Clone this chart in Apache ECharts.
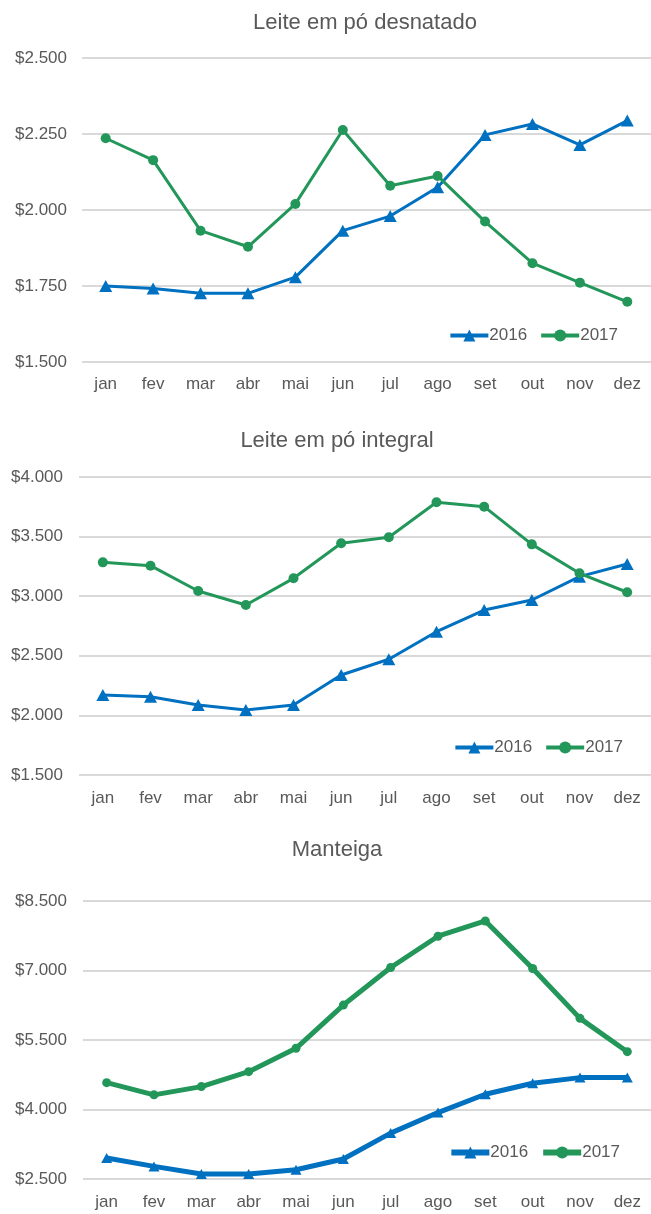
<!DOCTYPE html>
<html>
<head>
<meta charset="utf-8">
<script src="https://cdn.jsdelivr.net/npm/echarts@6/dist/echarts.min.js"></script>
<style>
  html, body { margin: 0; padding: 0; background: #fff; }
  .box { width: 651px; }
</style>
</head>
<body>
<div id="c1" class="box" style="height:410px"></div>
<div id="c2" class="box" style="height:410px"></div>
<div id="c3" class="box" style="height:394px"></div>
<script>
var months = ['jan','fev','mar','abr','mai','jun','jul','ago','set','out','nov','dez'];
var seriesNames = ['2016','2017'];

// Leite em pó desnatado
var desnatado2016 = [1750,1742,1726,1726,1779,1932,1980,2075,2247,2283,2214,2294];
var desnatado2017 = [2236,2164,1932,1879,2020,2263,2080,2112,1962,1825,1761,1698];

// Leite em pó integral
var integral2016 = [2171,2157,2087,2045,2087,2339,2471,2702,2884,2968,3164,3270];
var integral2017 = [3284,3256,3044,2926,3150,3444,3494,3788,3751,3435,3192,3033];

// Manteiga
var manteiga2016 = [2952,2772,2608,2608,2700,2931,3491,3934,4330,4567,4688,4688];
var manteiga2017 = [4580,4316,4494,4817,5321,6254,7065,7740,8069,7043,5967,5248];

var blue = '#0070C0';
var green = '#23975A';
var textColor = '#595959';
var font = 'Liberation Sans';

function money(v){
	var s = String(Math.round(v));
	return '$' + s.replace(/\B(?=(\d{3})+(?!\d))/g, '.');
}

function makeChart(id, cfg){
	var myChart = echarts.init(document.getElementById(id));
	var option = {
		animation: false,
		textStyle: { fontFamily: font },
		title: {
			text: cfg.title,
			left: cfg.titleX,
			top: cfg.titleTop,
			textAlign: 'center',
			textStyle: { color: textColor, fontSize: 22, fontWeight: 'normal', fontFamily: font }
		},
		legend: {
			data: seriesNames,
			right: cfg.legendRight,
			top: cfg.legendTop,
			itemWidth: 38,
			itemHeight: 15,
			itemGap: 12,
			selectedMode: false,
			lineStyle: { width: cfg.lineWidth + 1 },
			textStyle: { color: textColor, fontSize: 17, fontFamily: font, padding: [0,0,0,-4] }
		},
		grid: {
			left: cfg.left,
			right: 0,
			top: cfg.top,
			bottom: cfg.bottom
		},
		xAxis: {
			type: 'category',
			data: months,
			boundaryGap: true,
			axisLine: { show: false },
			axisTick: { show: false },
			axisLabel: { color: textColor, fontSize: 17, margin: cfg.xMargin, fontFamily: font }
		},
		yAxis: {
			type: 'value',
			min: cfg.min,
			max: cfg.max,
			interval: cfg.interval,
			axisLine: { show: false },
			axisTick: { show: false },
			splitLine: { lineStyle: { color: '#D9D9D9', width: 2 } },
			axisLabel: { color: textColor, fontSize: 17, margin: cfg.yMargin, fontFamily: font, formatter: money }
		},
		series: [
			{
				name: '2016',
				type: 'line',
				data: cfg.data2016,
				symbol: 'triangle',
				symbolSize: cfg.triSize,
				lineStyle: { color: blue, width: cfg.lineWidth },
				itemStyle: { color: blue }
			},
			{
				name: '2017',
				type: 'line',
				data: cfg.data2017,
				symbol: 'circle',
				symbolSize: cfg.dotSize,
				lineStyle: { color: green, width: cfg.lineWidth },
				itemStyle: { color: green }
			}
		]
	};
	myChart.setOption(option);
}

makeChart('c1', {
	title: 'Leite em pó desnatado', titleX: 360, titleTop: 7,
	legendRight: 28, legendTop: 322,
	left: 82, top: 58, bottom: 48,
	xMargin: 14, yMargin: 15,
	min: 1500, max: 2500, interval: 250,
	data2016: desnatado2016, data2017: desnatado2017,
	lineWidth: 3, triSize: [13, 12], dotSize: 10
});

makeChart('c2', {
	title: 'Leite em pó integral', titleX: 332, titleTop: 15,
	legendRight: 23, legendTop: 324,
	left: 79, top: 67, bottom: 45,
	xMargin: 15, yMargin: 16,
	min: 1500, max: 4000, interval: 500,
	data2016: integral2016, data2017: integral2017,
	lineWidth: 3, triSize: [13, 12], dotSize: 10
});

makeChart('c3', {
	title: 'Manteiga', titleX: 332, titleTop: 14,
	legendRight: 26, legendTop: 319,
	left: 83, top: 81, bottom: 35,
	xMargin: 15, yMargin: 16,
	min: 2500, max: 8500, interval: 1500,
	data2016: manteiga2016, data2017: manteiga2017,
	lineWidth: 5, triSize: [11, 10], dotSize: 9
});
</script>
</body>
</html>
